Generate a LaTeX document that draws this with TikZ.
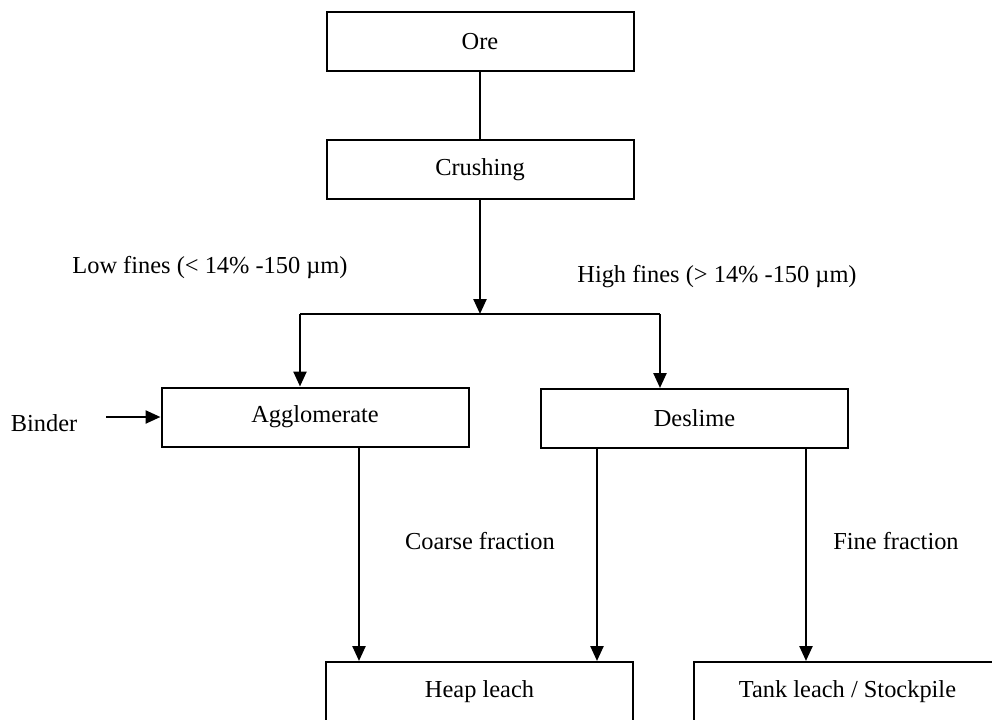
\documentclass[tikz,border=0pt]{standalone}
\usepackage{fontspec}
\setmainfont{Liberation Serif}
\usetikzlibrary{arrows.meta,positioning}

\begin{document}
\begin{tikzpicture}[x=0.5pt, y=-0.5pt,
	every node/.style = {align=center, font=\fontsize{12.2}{14}\selectfont},
	Box/.style = {draw, line width=1pt, minimum width=153.5pt, minimum height=29.5pt, inner sep=0pt},
	Line/.style = {line width=1.2pt},
	Flow/.style = {Line, -{Triangle[length=7.5pt, width=6.5pt]}}
]
\useasboundingbox (0,0) rectangle (992,719);
\clip (0,0) rectangle (992,719);
\node[Box] (ore) at (480,41.5) {Ore};
\node[Box, below=33.5pt of ore] (crush) {Crushing};
\node[Box] (aggl) at (315,417)   {Agglomerate};
\node[Box] (desl) at (694.5,418.5) {Deslime};
\node[Box] (heap) at (479.5,691.5) {Heap leach};
\node[Box] (tank) at (847.5,691.5) {Tank leach / Stockpile};
\node (binder) at (44,423) {Binder};

\coordinate (split) at (480,314);
\coordinate (jl)    at (300,314);
\coordinate (jr)    at (660,314);
\coordinate (cf)    at (359,0);
\coordinate (dl)    at (597,0);
\coordinate (dr)    at (806,0);

\node at (210,268) {Low fines (< 14\% -150 µm)};
\node at (717,277) {High fines (> 14\% -150 µm)};
\node at (480,541) {Coarse fraction};
\node at (896,541) {Fine fraction};

\draw[Line] (ore) -- (crush);
\draw[Flow] (crush.south -| split) -- (split);
\draw[Line] (jl) -- (jr);
\draw[Flow] (jl) -- (jl |- aggl.north);
\draw[Flow] (jr) -- (jr |- desl.north);
\draw[Flow] ([xshift=11pt]binder.east |- aggl.west) -- (aggl.west);
\draw[Flow] (aggl.south -| cf) -- (heap.north -| cf);
\draw[Flow] (desl.south -| dl) -- (heap.north -| dl);
\draw[Flow] (desl.south -| dr) -- (tank.north -| dr);
\end{tikzpicture}
\end{document}
